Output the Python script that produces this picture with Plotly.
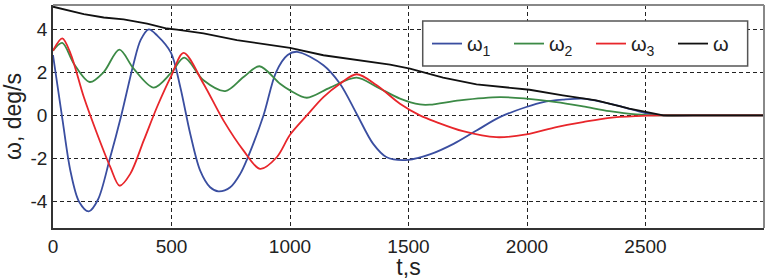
import plotly.graph_objects as go

# ---- data ----
t_w1 = [0, 40, 74, 110, 151, 190, 240, 288, 340, 370, 404, 440, 498, 537, 579, 621, 663, 698,
        748, 790, 820, 888, 941, 990, 1030, 1141, 1211, 1281, 1351, 1408, 1499, 1590, 1690,
        1787, 1885, 1997, 2069, 2151, 2236, 2320, 2404, 2499, 2575, 2700, 2850, 3000]
w1 = [2.8, -0.2, -2.6, -4.0, -4.45, -3.9, -2.0, 0.0, 2.4, 3.5, 3.99, 3.7, 2.9, 1.32, -0.85,
      -2.56, -3.33, -3.52, -3.33, -2.71, -2.0, 0.0, 2.0, 2.8, 2.95, 2.33, 1.47, 0.08, -1.32,
      -1.94, -2.06, -1.81, -1.32, -0.70, -0.08, 0.39, 0.62, 0.73, 0.78, 0.62, 0.39, 0.11,
      0.0, 0.0, 0.0, 0.0]

t_w2 = [0, 39, 88, 155, 214, 280, 340, 425, 498, 554, 635, 727, 804, 871, 958, 1000, 1071,
        1169, 1281, 1366, 1464, 1548, 1590, 1716, 1885, 1997, 2124, 2236, 2348, 2461, 2570,
        2700, 2850, 3000]
w2 = [3.0, 3.36, 2.40, 1.55, 2.01, 3.05, 2.17, 1.29, 1.97, 2.68, 1.63, 1.13, 1.78, 2.28,
      1.47, 1.16, 0.82, 1.29, 1.75, 1.32, 0.78, 0.51, 0.50, 0.70, 0.85, 0.78, 0.62, 0.42,
      0.20, 0.05, 0.0, 0.0, 0.0, 0.0]

t_w3 = [0, 39, 74, 130, 186, 242, 281, 326, 383, 439, 498, 551, 635, 719, 804, 874, 944,
        1000, 1071, 1141, 1211, 1281, 1366, 1464, 1548, 1618, 1730, 1871, 1997, 2124, 2236,
        2348, 2461, 2575, 2700, 2850, 3000]
w3 = [3.0, 3.57, 2.87, 0.85, -0.85, -2.40, -3.26, -2.71, -1.16, 0.39, 1.81, 2.90, 1.47,
      -0.23, -1.63, -2.48, -1.94, -0.90, 0.0, 0.85, 1.47, 1.91, 1.40, 0.54, 0.0, -0.31,
      -0.73, -1.01, -0.88, -0.54, -0.31, -0.11, -0.03, 0.0, 0.0, 0.0, 0.0]

t_w = [0, 74, 130, 214, 298, 397, 481, 523, 635, 776, 916, 1000, 1141, 1281, 1422, 1506,
       1646, 1787, 1927, 2011, 2151, 2292, 2432, 2499, 2575, 3000]
w = [5.04, 4.85, 4.70, 4.54, 4.45, 4.26, 4.03, 3.98, 3.80, 3.49, 3.26, 3.13, 2.79, 2.59,
     2.36, 2.17, 1.75, 1.44, 1.29, 1.19, 0.93, 0.70, 0.31, 0.15, 0.0, 0.0]

x_ticks = [0, 500, 1000, 1500, 2000, 2500]
x_tick_labels = ["0", "500", "1000", "1500", "2000", "2500"]
y_ticks = [-4, -2, 0, 2, 4]
y_tick_labels = ["-4", "-2", "0", "2", "4"]

names = ["ω<sub>1</sub>", "ω<sub>2</sub>", "ω<sub>3</sub>", "ω"]
colors = ["#3A4EA0", "#3C8A46", "#E8262B", "#111111"]

FONT = "Liberation Sans, Arial, sans-serif"

fig = go.Figure()
series = [(t_w1, w1, "spline"), (t_w2, w2, "spline"), (t_w3, w3, "spline"), (t_w, w, "linear")]
for (tt, yy, shape), name, col in zip(series, names, colors):
    line = dict(color=col, width=1.8, shape=shape)
    if shape == "spline":
        line["smoothing"] = 0.9
    fig.add_trace(go.Scatter(x=tt, y=yy, mode="lines", name=name, line=line))

fig.update_layout(
    width=772, height=280,
    margin=dict(l=53, r=8, t=5, b=52, autoexpand=False),
    paper_bgcolor="white", plot_bgcolor="white",
    font=dict(family=FONT, size=19, color="#222"),
    showlegend=True,
    legend=dict(
        orientation="h", x=0.526, y=0.827, xanchor="left", yanchor="middle",
        bgcolor="rgba(0,0,0,0)", borderwidth=0,
        font=dict(family=FONT, size=20, color="#222"),
        entrywidth=37, entrywidthmode="pixels",
    ),
    xaxis=dict(
        range=[0, 3000], tickvals=x_ticks, ticktext=x_tick_labels,
        showgrid=True, gridcolor="#222", griddash="4px,3px", gridwidth=1,
        zeroline=False, showline=True, linecolor="#333", linewidth=1.5,
        ticks="", automargin=False, title=dict(text="t,s", standoff=4),
        tickfont=dict(size=19),
    ),
    yaxis=dict(
        range=[-5.22, 5.12], tickvals=y_ticks, ticktext=y_tick_labels,
        showgrid=True, gridcolor="#222", griddash="4px,3px", gridwidth=1,
        zeroline=False, showline=True, linecolor="#333", linewidth=1.5,
        ticks="", automargin=False, title=dict(text="ω, deg/s", standoff=10),
        tickfont=dict(size=19),
    ),
    shapes=[
        dict(type="line", xref="paper", yref="paper", x0=0, x1=1, y0=1, y1=1,
             line=dict(color="#888", width=2)),
        dict(type="line", xref="paper", yref="paper", x0=1, x1=1, y0=0, y1=1,
             line=dict(color="#888", width=2)),
        dict(type="rect", xref="paper", yref="paper", layer="above",
             x0=0.520, x1=0.977, y0=0.726, y1=0.928,
             fillcolor="white", line=dict(color="#555", width=1.5)),
    ],
)

fig.write_html("out.html", config={"displayModeBar": False},
               post_script="document.body.style.margin='0px';")
